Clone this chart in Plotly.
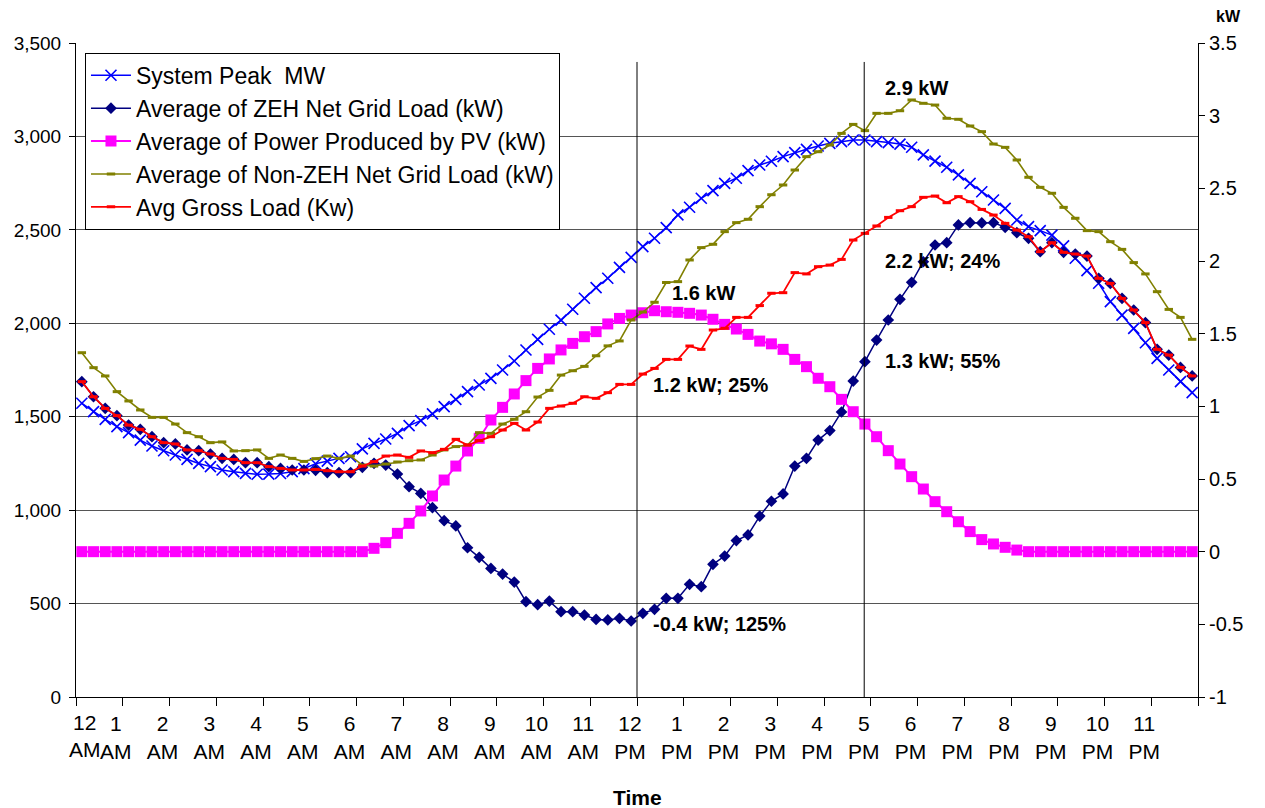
import numpy as np
import plotly.graph_objects as go

# 96 quarter-hour slots, 12 AM .. 11:45 PM
slots = list(range(96))

system_peak_mw = [
    1572, 1527, 1486, 1447, 1415, 1375, 1343, 1318, 1295, 1272, 1250, 1233,
    1215, 1206, 1197, 1192, 1193, 1196, 1206, 1222, 1248, 1262, 1277, 1286,
    1328, 1357, 1381, 1411, 1452, 1479, 1515, 1554, 1593, 1634, 1670, 1705,
    1750, 1798, 1857, 1914, 1968, 2017, 2075, 2134, 2191, 2241, 2299, 2353,
    2410, 2455, 2512, 2580, 2621, 2669, 2710, 2749, 2776, 2817, 2847, 2867,
    2892, 2913, 2931, 2949, 2963, 2972, 2981, 2981, 2972, 2967, 2959, 2942,
    2901, 2868, 2835, 2794, 2749, 2704, 2660, 2615, 2553, 2517, 2496, 2472,
    2414, 2348, 2282, 2214, 2116, 2044, 1973, 1896, 1812, 1750, 1688, 1629]

zeh_net_kw = [
    1.170, 1.066, 0.986, 0.936, 0.871, 0.842, 0.791, 0.750, 0.741, 0.700, 0.695, 0.672,
    0.642, 0.635, 0.612, 0.612, 0.585, 0.573, 0.562, 0.562, 0.560, 0.544, 0.544, 0.544,
    0.580, 0.608, 0.596, 0.534, 0.447, 0.401, 0.303, 0.213, 0.177, 0.027, -0.039, -0.115,
    -0.154, -0.209, -0.344, -0.365, -0.340, -0.413, -0.413, -0.436, -0.466, -0.470, -0.459, -0.477,
    -0.424, -0.397, -0.321, -0.321, -0.225, -0.241, -0.087, -0.030, 0.076, 0.115, 0.245, 0.347,
    0.397, 0.589, 0.642, 0.768, 0.833, 0.961, 1.174, 1.307, 1.456, 1.594, 1.736, 1.853,
    1.995, 2.110, 2.126, 2.248, 2.264, 2.262, 2.264, 2.232, 2.195, 2.156, 2.064, 2.126,
    2.060, 2.048, 2.034, 1.881, 1.846, 1.743, 1.663, 1.576, 1.392, 1.353, 1.268, 1.209]

pv_kw = [
    0, 0, 0, 0, 0, 0, 0, 0, 0, 0, 0, 0,
    0, 0, 0, 0, 0, 0, 0, 0, 0, 0, 0, 0,
    0, 0.023, 0.062, 0.126, 0.195, 0.280, 0.383, 0.493, 0.589, 0.693, 0.780, 0.906,
    0.993, 1.085, 1.177, 1.261, 1.326, 1.388, 1.433, 1.479, 1.514, 1.567, 1.605, 1.628,
    1.644, 1.658, 1.651, 1.647, 1.640, 1.628, 1.599, 1.564, 1.532, 1.495, 1.449, 1.430,
    1.392, 1.323, 1.273, 1.193, 1.135, 1.048, 0.963, 0.878, 0.791, 0.695, 0.603, 0.516,
    0.431, 0.344, 0.275, 0.206, 0.138, 0.083, 0.053, 0.030, 0.011, 0, 0, 0,
    0, 0, 0, 0, 0, 0, 0, 0, 0, 0, 0, 0]

non_zeh_kw = [
    1.369, 1.266, 1.209, 1.101, 1.037, 0.975, 0.924, 0.924, 0.878, 0.819, 0.791, 0.750,
    0.755, 0.693, 0.695, 0.700, 0.642, 0.665, 0.642, 0.621, 0.640, 0.658, 0.642, 0.658,
    0.596, 0.589, 0.603, 0.617, 0.626, 0.631, 0.665, 0.700, 0.723, 0.734, 0.819, 0.814,
    0.878, 0.911, 0.963, 1.064, 1.110, 1.215, 1.245, 1.275, 1.348, 1.416, 1.450, 1.594,
    1.649, 1.716, 1.852, 1.858, 2.007, 2.092, 2.115, 2.202, 2.264, 2.287, 2.374, 2.456,
    2.523, 2.626, 2.718, 2.752, 2.798, 2.878, 2.940, 2.897, 3.016, 3.016, 3.034, 3.108,
    3.085, 3.073, 2.982, 2.975, 2.929, 2.890, 2.805, 2.782, 2.695, 2.576, 2.507, 2.466,
    2.369, 2.294, 2.209, 2.202, 2.133, 2.080, 1.989, 1.911, 1.789, 1.667, 1.612, 1.461]

gross_kw = [
    1.170, 1.066, 0.986, 0.936, 0.871, 0.842, 0.791, 0.750, 0.741, 0.700, 0.695, 0.672,
    0.642, 0.635, 0.612, 0.612, 0.585, 0.573, 0.562, 0.562, 0.566, 0.557, 0.550, 0.550,
    0.589, 0.619, 0.658, 0.665, 0.649, 0.693, 0.681, 0.704, 0.773, 0.734, 0.764, 0.791,
    0.837, 0.883, 0.837, 0.892, 0.986, 1.002, 1.021, 1.066, 1.055, 1.094, 1.151, 1.151,
    1.222, 1.261, 1.323, 1.323, 1.415, 1.392, 1.525, 1.537, 1.612, 1.612, 1.693, 1.778,
    1.782, 1.920, 1.911, 1.961, 1.972, 2.011, 2.144, 2.190, 2.241, 2.300, 2.346, 2.374,
    2.438, 2.447, 2.401, 2.443, 2.408, 2.355, 2.316, 2.259, 2.213, 2.167, 2.064, 2.126,
    2.060, 2.048, 2.034, 1.881, 1.846, 1.743, 1.663, 1.576, 1.392, 1.353, 1.268, 1.209]

hour_numbers = ["12", "1", "2", "3", "4", "5", "6", "7", "8", "9", "10", "11"] * 2
hour_periods = ["AM"] * 12 + ["PM"] * 12

left_ticks = [0, 500, 1000, 1500, 2000, 2500, 3000, 3500]
right_ticks = [-1, -0.5, 0, 0.5, 1, 1.5, 2, 2.5, 3, 3.5]
right_tick_text = ["-1", "-0.5", "0", "0.5", "1", "1.5", "2", "2.5", "3", "3.5"]

# annotations: (text, hour position of left edge, kW level)
callouts = [
    ("1.6 kW", 12.71, 1.78),
    ("1.2 kW; 25%", 12.31, 1.15),
    ("-0.4 kW; 125%", 12.31, -0.50),
    ("2.9 kW", 17.26, 3.19),
    ("2.2 kW; 24%", 17.26, 2.00),
    ("1.3 kW; 55%", 17.26, 1.31),
]
marker_lines_hours = [12.0, 16.86]

FONT = "Liberation Sans, Arial, sans-serif"
x_hours = (np.array(slots) + 0.5) / 4.0

fig = go.Figure()
fig.add_trace(go.Scatter(
    x=x_hours, y=system_peak_mw, name="System Peak  MW", mode="lines+markers",
    line=dict(color="#0000FF", width=1.5),
    marker=dict(symbol="x-thin", size=11, line=dict(color="#0000FF", width=1.6)),
    yaxis="y"))
fig.add_trace(go.Scatter(
    x=x_hours, y=zeh_net_kw, name="Average of ZEH Net Grid Load (kW)", mode="lines+markers",
    line=dict(color="#000080", width=1.5),
    marker=dict(symbol="diamond", size=9, color="#000080"),
    yaxis="y2"))
fig.add_trace(go.Scatter(
    x=x_hours, y=pv_kw, name="Average of Power Produced by PV (kW)", mode="lines+markers",
    line=dict(color="#FF00FF", width=2),
    marker=dict(symbol="square", size=11, color="#FF00FF"),
    yaxis="y2"))
fig.add_trace(go.Scatter(
    x=x_hours, y=non_zeh_kw, name="Average of Non-ZEH Net Grid Load (kW)", mode="lines+markers",
    line=dict(color="#808000", width=1.6),
    marker=dict(symbol="line-ew", size=6, line=dict(color="#808000", width=3)),
    yaxis="y2"))
fig.add_trace(go.Scatter(
    x=x_hours, y=gross_kw, name="Avg Gross Load (Kw)", mode="lines+markers",
    line=dict(color="#FF0000", width=1.8),
    marker=dict(symbol="line-ew", size=6, line=dict(color="#FF0000", width=3)),
    yaxis="y2"))

tickvals = list(range(24))
ticktext = [""] + [f"{n}<br>{p}" for n, p in zip(hour_numbers[1:], hour_periods[1:])]

# page body has an 8px margin: the figure is sized/offset to compensate
fig.update_layout(
    width=1257, height=800,
    margin=dict(l=68, r=67, t=35, b=111),
    paper_bgcolor="white", plot_bgcolor="white",
    font=dict(family=FONT, color="black", size=20),
    showlegend=True,
    legend=dict(x=0.008, y=0.985, xanchor="left", yanchor="top",
                bgcolor="white", bordercolor="black", borderwidth=1,
                font=dict(family=FONT, size=23, color="black"),
                tracegroupgap=0, itemwidth=40),
    xaxis=dict(range=[0, 24], tickmode="array", tickvals=tickvals + [24],
               ticktext=ticktext + [""], ticks="outside", ticklen=8, tickcolor="black",
               showline=True, linecolor="black", linewidth=1, showgrid=False,
               zeroline=False, tickfont=dict(size=21), ticklabelshift=-7,
               automargin=False),
    yaxis=dict(range=[0, 3500], tickmode="array", tickvals=left_ticks,
               tickformat=",", ticks="outside", ticklen=6, tickcolor="black",
               ticklabelstandoff=4, automargin=False,
               showline=True, linecolor="black", linewidth=1,
               showgrid=True, gridcolor="#555555", gridwidth=1, zeroline=False,
               tickfont=dict(size=19)),
    yaxis2=dict(range=[-1, 3.5], overlaying="y", side="right", tickmode="array",
                tickvals=right_ticks, ticktext=right_tick_text,
                ticks="outside", ticklen=6, tickcolor="black", automargin=False,
                showline=True, linecolor="black", linewidth=1,
                showgrid=False, zeroline=False, tickfont=dict(size=20)),
)

for hx in marker_lines_hours:
    fig.add_shape(type="line", xref="x", yref="paper", x0=hx, x1=hx, y0=0, y1=0.971,
                  line=dict(color="black", width=1))

for text, hx, kw in callouts:
    fig.add_annotation(x=hx, y=kw, xref="x", yref="y2", text=f"<b>{text}</b>",
                       showarrow=False, xanchor="left", yanchor="middle",
                       font=dict(size=20, family=FONT, color="black"))

# first tick label (pushed right as in the original)
fig.add_annotation(x=0, y=0, xref="x", yref="paper", text=f"{hour_numbers[0]}<br>{hour_periods[0]}",
                   showarrow=False, xanchor="center", yanchor="top", xshift=9, yshift=-12,
                   font=dict(size=21, family=FONT, color="black"))

fig.add_annotation(x=0.5, y=-0.153, xref="paper", yref="paper", text="<b>Time</b>",
                   showarrow=False, xanchor="center", yanchor="middle",
                   font=dict(size=21, family=FONT, color="black"))
fig.add_annotation(x=1.0, y=1.04, xref="paper", yref="paper", text="<b>kW</b>",
                   showarrow=False, xanchor="left", yanchor="middle", xshift=16,
                   font=dict(size=16, family=FONT, color="black"))

fig.write_html("out.html")
